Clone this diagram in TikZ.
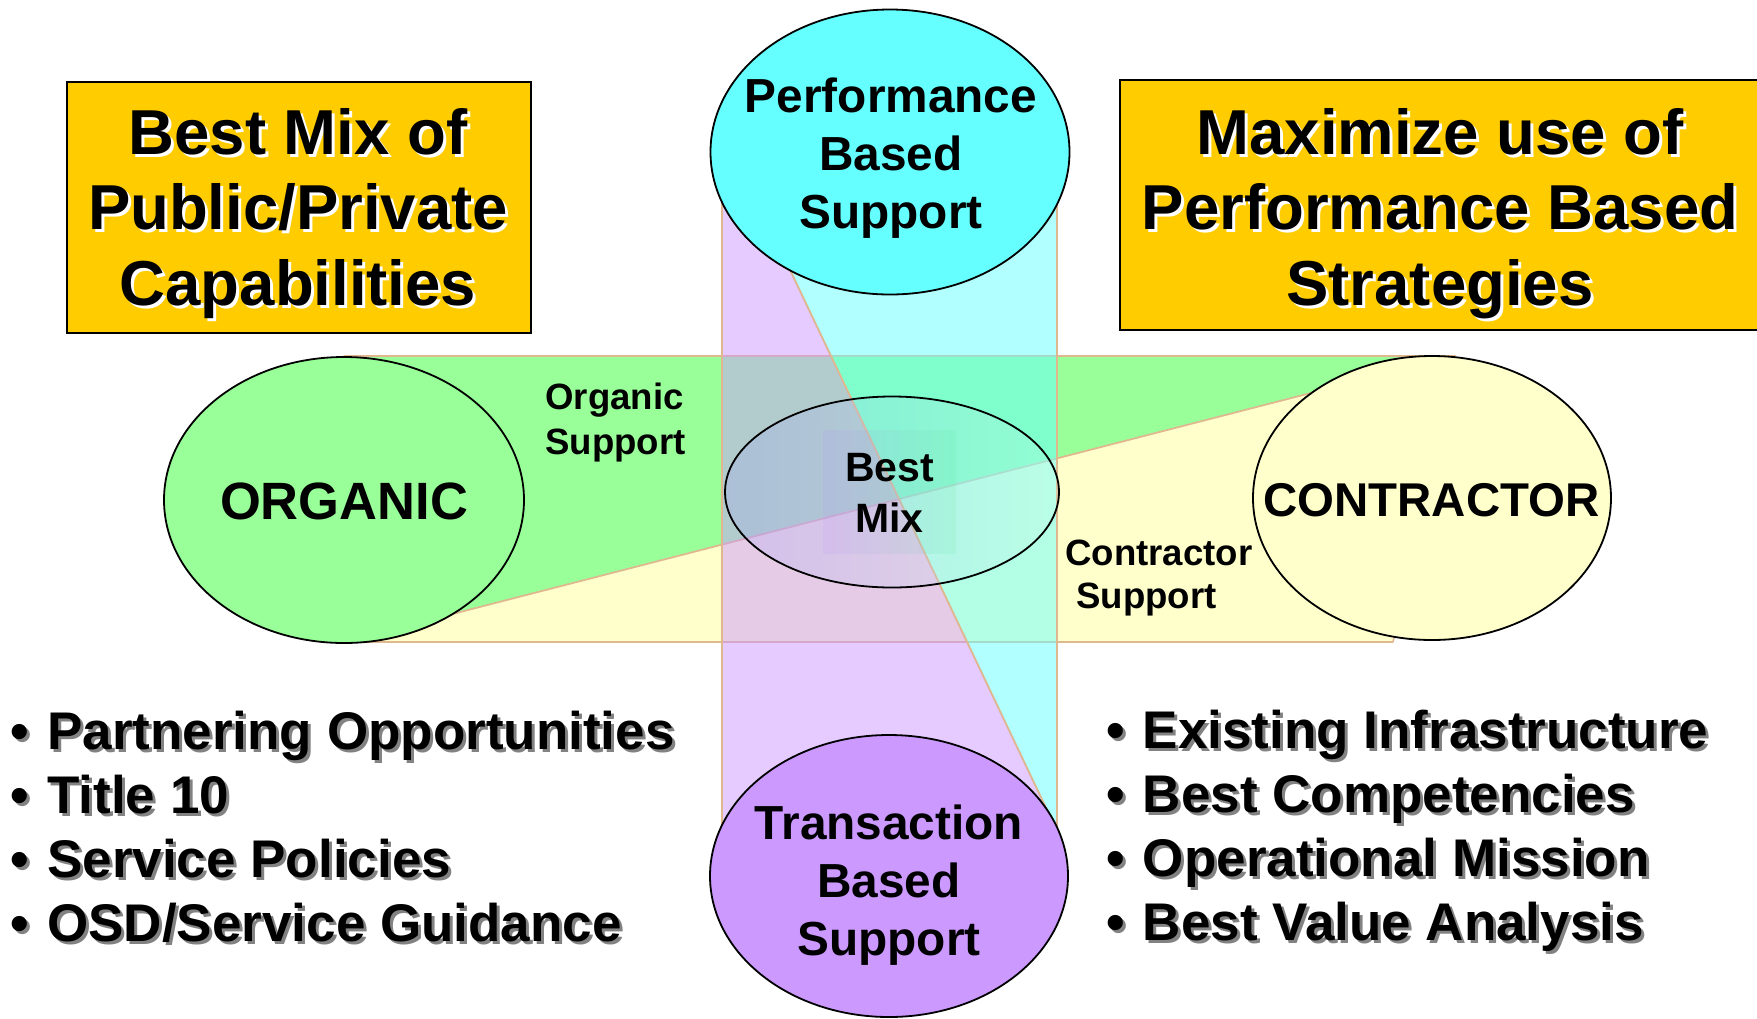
\documentclass[tikz,border=0pt]{standalone}
\usepackage{fontspec}
\setmainfont{Liberation Sans}
\usetikzlibrary{shapes.geometric}
\definecolor{grn}{HTML}{99FF99}
\definecolor{ylw}{HTML}{FFFFCC}
\definecolor{cyn}{HTML}{66FFFF}
\definecolor{lil}{HTML}{CC99FF}
\definecolor{gold}{HTML}{FFCC00}
\definecolor{bandline}{RGB}{224,184,144}
\definecolor{bmL}{RGB}{150,150,255}
\definecolor{bmR}{RGB}{215,255,235}
\definecolor{bxL}{RGB}{190,140,255}
\definecolor{bxR}{RGB}{90,235,150}
\definecolor{shadowgray}{RGB}{130,130,130}
\newcommand\lefttitle{Best Mix of\\Public/Private\\Capabilities}
\newcommand\righttitle{Maximize use of\\Performance Based\\Strategies}
\newcommand\leftlist{•\hspace{0.34em}Partnering Opportunities\\•\hspace{0.34em}Title 10\\•\hspace{0.34em}Service Policies\\•\hspace{0.34em}OSD/Service Guidance}
\newcommand\rightlist{•\hspace{0.34em}Existing Infrastructure\\•\hspace{0.34em}Best Competencies\\•\hspace{0.34em}Operational Mission\\•\hspace{0.34em}Best Value Analysis}
\tikzset{
  band/.style={draw=bandline, line width=0.8pt, line join=round},
  oval/.style={ellipse, draw=black, line width=0.9pt, inner sep=0pt},
  titlebox/.style={draw=black, line width=1.2pt, fill=gold, inner sep=0pt, anchor=north west},
  struts/.style={execute at begin node=\strut, execute at end node=\strut},
  txt/.style={inner sep=0pt, align=center, struts},
  bigtitle/.style={txt, font=\fontsize{31.75}{37.8}\selectfont\bfseries},
  ovaltext/.style={txt, font=\fontsize{23.9}{29}\selectfont\bfseries},
  mixtext/.style={txt, font=\fontsize{20.5}{25.5}\selectfont\bfseries},
  sidelabel/.style={txt, align=left, anchor=west, font=\fontsize{18.3}{22.5}\selectfont\bfseries},
  bullets/.style={txt, align=left, anchor=west, font=\fontsize{26.5}{32}\selectfont\bfseries},
}
\begin{document}
\begin{tikzpicture}[x=0.5pt, y=-0.5pt]
\useasboundingbox (0,0) rectangle (1757,1018);
\clip (0,0) rectangle (1757,1018);
\fill[white] (0,0) rectangle (1757,1018);

% horizontal band
\coordinate (HTL) at (344,356);
\coordinate (HTR) at (1455,356);
\coordinate (HBL) at (344,642);
\coordinate (HBR) at (1393,642);
\path[band, fill=grn] (HTL) -- (HTR) -- (HBL) -- cycle;
\path[band, fill=ylw] (HBL) -- (HBR) -- (HTR) -- cycle;

% vertical band
\coordinate (VTL) at (722,127);
\coordinate (VTR) at (1057,127);
\coordinate (VBL) at (722,831);
\coordinate (VBR) at (1057,831);
\path[band, fill=cyn, fill opacity=0.5] (VTL) -- (VTR) -- (VBR) -- cycle;
\path[band, fill=lil, fill opacity=0.5] (VTL) -- (VBR) -- (VBL) -- cycle;

% ellipses
\node[oval, fill=grn, minimum width=180pt, minimum height=143pt] (organic) at (344,500) {};
\node[oval, fill=ylw, minimum width=179pt, minimum height=142pt] (contractor) at (1432,498) {};
\node[oval, fill=cyn, minimum width=179.5pt, minimum height=142.5pt] (perf) at (890,152) {};
\node[oval, fill=lil, minimum width=179pt, minimum height=141pt] (trans) at (889,876) {};
\node[oval, left color=bmL, right color=bmR, fill opacity=0.22, minimum width=167pt, minimum height=95.5pt] (bestmix) at (892,492) {};
\node[inner sep=0pt, left color=bxL, right color=bxR, fill opacity=0.14, minimum width=66.5pt, minimum height=61.5pt] (bmshade) at (889.5,491.5) {};

% title boxes
\node[titlebox, minimum width=232pt, minimum height=125.5pt] (lbox) at (66,81) {};
\node[titlebox, minimum width=323pt, minimum height=125pt] (rbox) at (1119,79) {};
\node[bigtitle, text=white] (ltitles) at (301,221) {\lefttitle};
\node[bigtitle] (ltitle) at (298,218) {\lefttitle};
\node[bigtitle, text=white] (rtitles) at (1443,221) {\righttitle};
\node[bigtitle] (rtitle) at (1440,218) {\righttitle};

% ellipse labels
\node[ovaltext] (perftext) at (891,161.6) {Performance\\Based\\Support};
\node[ovaltext] (transtext) at (889,889) {Transaction\\Based\\Support};
\node[txt, font=\fontsize{26.25}{31.5}\selectfont\bfseries] (orgtext) at (344,507) {ORGANIC};
\node[txt, font=\fontsize{23.7}{28.45}\selectfont\bfseries] (contrtext) at (1431.5,505.6) {CONTRACTOR};
\node[mixtext] (mixtext) at (889.5,500.7) {Best\\Mix};

% band labels
\node[sidelabel] (orgsup) at (545,425.7) {Organic\\Support};
\node[sidelabel, font=\fontsize{18.3}{21.5}\selectfont\bfseries] (consup) at (1065,580.7) {Contractor\\\hspace*{5.5pt}Support};

% bullet lists
\node[bullets, text=shadowgray] (lbuls) at (13.4,839.2) {\leftlist};
\node[bullets] (lbul) at (10.4,836.2) {\leftlist};
\node[bullets, text=shadowgray] (rbuls) at (1109,838.2) {\rightlist};
\node[bullets] (rbul) at (1106,835.2) {\rightlist};
\end{tikzpicture}
\end{document}
